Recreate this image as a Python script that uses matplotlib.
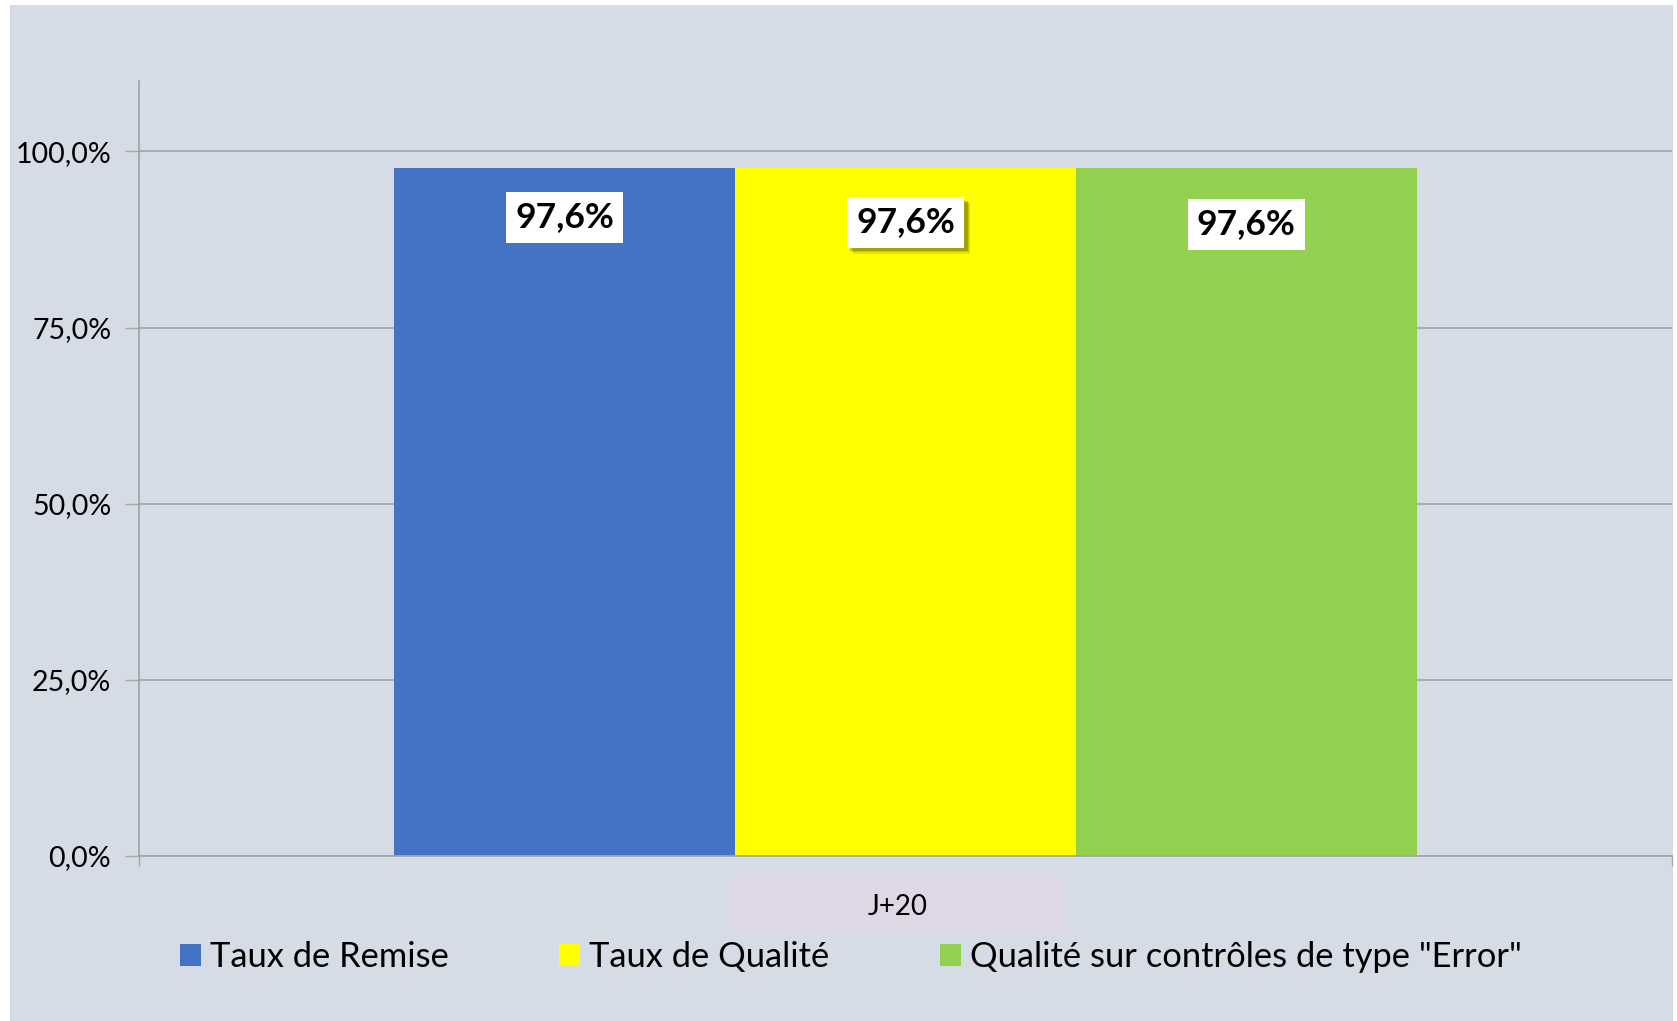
import matplotlib
matplotlib.use("Agg")
import matplotlib.pyplot as plt
import matplotlib.patches as mpatches
import matplotlib.patheffects as pe
import matplotlib.transforms as mtransforms
import numpy as np

# ---- data ----
categories = ["J+20"]
series_names = ["Taux de Remise", "Taux de Qualité", "Qualité sur contrôles de type \"Error\""]
series_values = [[97.6], [97.6], [97.6]]
series_colors = ["#4472C4", "#FFFF00", "#92D050"]
label_texts = ["97,6%", "97,6%", "97,6%"]
ytick_values = [0, 25, 50, 75, 100]
ytick_labels = ["0,0%", "25,0%", "50,0%", "75,0%", "100,0%"]

plt.rcParams['font.family'] = ['Lato', 'DejaVu Sans']

W, H = 1677, 1021
fig = plt.figure(figsize=(W / 100, H / 100), dpi=100)
fig.patch.set_facecolor("white")
panel_color = "#D6DCE5"
# chart area panel
fig.patches.append(mpatches.Rectangle((10 / W, 0), (1673 - 10) / W, (H - 5) / H,
                                      transform=fig.transFigure, facecolor=panel_color,
                                      edgecolor="none", zorder=-2))
# category label background
fig.patches.append(mpatches.Rectangle((731 / W, 1 - 933 / H), 333 / W, 57 / H,
                                      transform=fig.transFigure, facecolor="#DED8E6",
                                      edgecolor="none", zorder=-1))

ax = fig.add_axes([139 / W, 1 - 856 / H, (1672 - 139) / W, (856 - 81) / H])
ax.set_facecolor("none")
ax.set_zorder(1)

n = len(series_names)
bar_w = 0.6667 / n
x = np.arange(len(categories))
label_offsets = [-49, -54, -56]
for i, (name, vals, col) in enumerate(zip(series_names, series_values, series_colors)):
    xpos = x + (i - (n - 1) / 2) * bar_w
    ax.bar(xpos, vals, width=bar_w, color=col, label=name, zorder=2, linewidth=0)
    for xp, v in zip(xpos, vals):
        t = ax.annotate(label_texts[i], (xp, v), xytext=(0, label_offsets[i]),
                        textcoords="offset pixels", ha="center", va="center",
                        fontsize=25.5, fontweight="bold", color="black", zorder=4,
                        bbox=dict(boxstyle="square,pad=0.26", facecolor="white",
                                  edgecolor="none"))
        if i == 1:
            t.get_bbox_patch().set_path_effects([
                pe.SimplePatchShadow(offset=(4.5, -4.5), shadow_rgbFace="#777700", alpha=0.18),
                pe.SimplePatchShadow(offset=(3.5, -3.5), shadow_rgbFace="#666600", alpha=0.25),
                pe.SimplePatchShadow(offset=(2.5, -2.5), shadow_rgbFace="#555500", alpha=0.3),
                pe.Normal()])

ax.set_xlim(-0.5, len(categories) - 0.5)
ax.set_ylim(0, 110)
ax.set_yticks(ytick_values)
ax.set_yticklabels(ytick_labels, fontsize=20.5)
ax.yaxis.grid(True, color="#A6A6A6", linewidth=1.3, zorder=1)
ax.set_axisbelow(True)
ax.tick_params(axis="y", length=10, width=1.0, color="#A6A6A6", pad=10)

ax.set_xticks(x)
ax.set_xticklabels(categories, fontsize=20)
ax.tick_params(axis="x", length=0, pad=27)
shift = mtransforms.ScaledTranslation(-8 / 100, 0, fig.dpi_scale_trans)
for lbl in ax.get_xticklabels():
    lbl.set_transform(lbl.get_transform() + shift)
ax.set_xticks([-0.5, len(categories) - 0.5], minor=True)
ax.tick_params(axis="x", which="minor", length=7, width=1.0, color="#A6A6A6")

for s in ["top", "right"]:
    ax.spines[s].set_visible(False)
for s in ["left", "bottom"]:
    ax.spines[s].set_color("#A6A6A6")
    ax.spines[s].set_linewidth(1.3)

leg = fig.legend(loc="center", bbox_to_anchor=(851 / W, 1 - 957 / H), ncol=3,
                 frameon=False, fontsize=24.8, handlelength=0.6, handleheight=0.6,
                 handletextpad=0.27, columnspacing=3.2, borderpad=0)

fig.savefig("out.png", dpi=100, facecolor=fig.get_facecolor())
